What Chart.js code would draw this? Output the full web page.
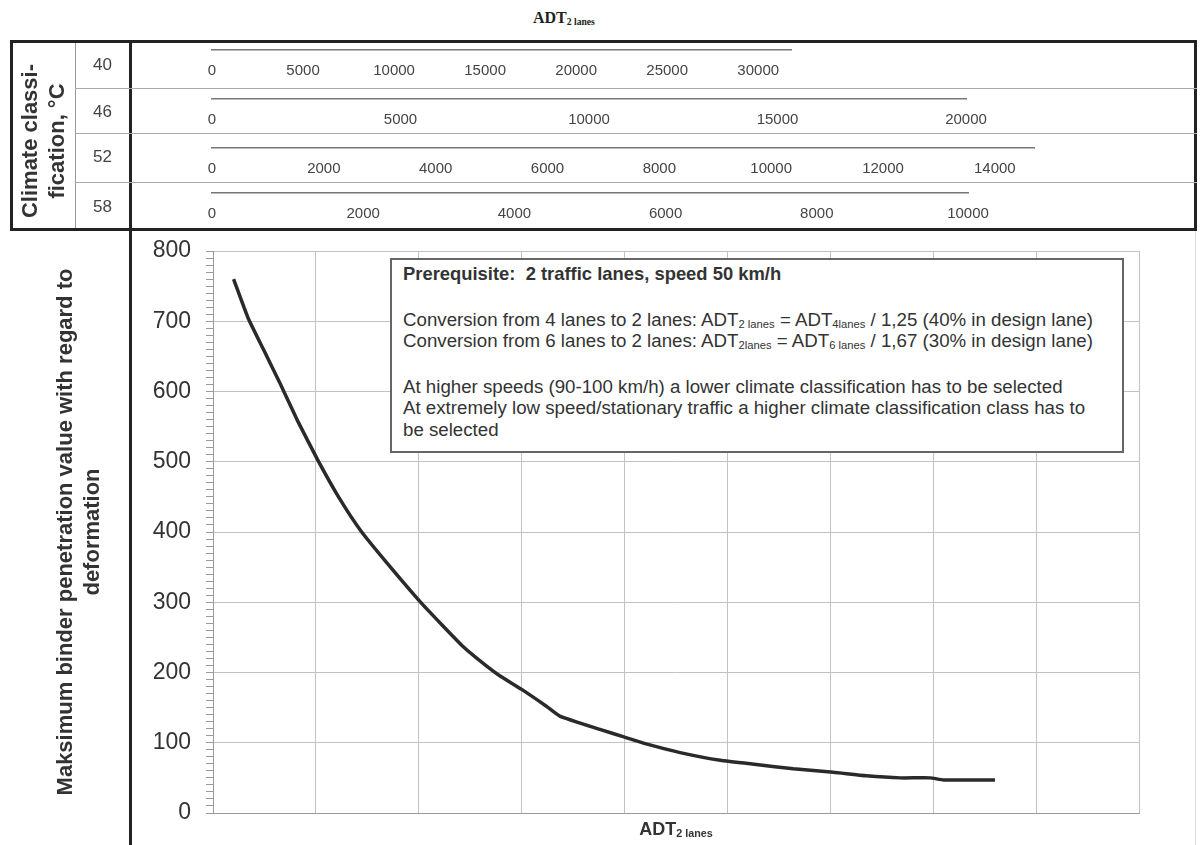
<!DOCTYPE html>
<html>
<head>
<meta charset="utf-8">
<script src="https://cdn.jsdelivr.net/npm/chart.js@4.4.1/dist/chart.umd.min.js"></script>
<style>
  html, body { margin: 0; padding: 0; background: #fff; }
  body { width: 1200px; height: 845px; position: relative; overflow: hidden;
         font-family: Arial, 'Liberation Sans', sans-serif; color: #333; }
  .abs { position: absolute; }
  canvas { position: absolute; }
  sub { font-size: 0.6em; line-height: 0; vertical-align: -0.2em; }
  #topTitle { left: 533px; top: 9px; font: bold 16px 'Liberation Serif', 'Times New Roman', serif; color: #222; }
  #table { left: 10px; top: 40px; width: 1181px; height: 185px; border: 3px solid #222; }
  #frameLine { left: 129px; top: 40px; width: 3px; height: 805px; background: #222; }
  #colLine { left: 75px; top: 43px; width: 1px; height: 185px; background: #999; }
  .rowLine { left: 75px; width: 1122px; height: 1px; background: #aaa; }
  .rowLabel { left: 76px; width: 53px; text-align: center; font-size: 17px; color: #444; }
  #climate { left: 43px; top: 141px; width: 190px; text-align: center; font-weight: bold; font-size: 22px;
             line-height: 27px; color: #333; transform: translate(-50%, -50%) rotate(-90deg); }
  #note { left: 390px; top: 258px; width: 719px; height: 188px; border: 2px solid #666; background: #fff;
          padding: 3px 0 0 11px; font-size: 18.7px; line-height: 21.5px; color: #333; white-space: nowrap; }
  #note b { font-size: 18.4px; }
  #note .gap { height: 24px; }
  #xTitle { left: 576px; width: 200px; top: 819px; text-align: center; font-weight: bold; font-size: 18px; color: #333; }
  #rightLine { left: 1195px; top: 231px; width: 1px; height: 614px; background: #ddd; }
</style>
</head>
<body>
<div id="topTitle" class="abs">ADT<sub>2 lanes</sub></div>
<canvas id="mainChart" width="1200" height="624" style="left:0;top:221px"></canvas>
<div id="table" class="abs"></div>
<div id="colLine" class="abs"></div>
<div id="frameLine" class="abs"></div>
<div id="rightLine" class="abs"></div>
<div id="climate" class="abs">Climate classi-<br>fication, °C</div>
<div id="note" class="abs">
  <div><b>Prerequisite:&nbsp; 2 traffic lanes, speed 50 km/h</b></div>
  <div class="gap"></div>
  <div>Conversion from 4 lanes to 2 lanes: ADT<sub>2 lanes</sub> = ADT<sub>4lanes</sub> / 1,25 (40% in design lane)</div>
  <div>Conversion from 6 lanes to 2 lanes: ADT<sub>2lanes</sub> = ADT<sub>6 lanes</sub> / 1,67 (30% in design lane)</div>
  <div class="gap"></div>
  <div>At higher speeds (90-100 km/h) a lower climate classification has to be selected</div>
  <div>At extremely low speed/stationary traffic a higher climate classification class has to</div>
  <div>be selected</div>
</div>
<div id="xTitle" class="abs">ADT<sub>2 lanes</sub></div>

<script>
// Climate classes and the ADT scale that belongs to each one
const climateClasses = ['40', '46', '52', '58'];
const adtScaleMax = [31800, 20000, 14700, 10000];
const adtScaleStep = [5000, 5000, 2000, 2000];

// Curve: position along the ADT axis (grid divisions) -> max binder penetration
const curveAdt = [0.2, 0.34, 0.49, 0.65, 0.83, 1.02, 1.22, 1.44, 1.69, 2.03, 2.43, 2.66, 2.79, 3.0, 3.24,
                  3.37, 3.76, 4.0, 4.22, 4.54, 4.93, 5.28, 5.64, 6.03, 6.35, 6.68, 6.97, 7.1, 7.6];
const curvePen = [760, 705, 660, 612, 556, 502, 450, 401, 356, 298, 237, 209, 195, 176, 152,
                  138, 119, 108, 98, 86, 75, 69, 63, 58, 53, 50, 50, 47, 47];

// Axes
const yMax = 800;
const yMajorStep = 100;
const yMinorStep = 10;
const gridDivisions = 9;

// Table row layout (pixels)
const rowTop = [43, 88, 133, 182];
const rowBottom = [88, 133, 182, 228];
const rowLineY = [50, 99, 148, 193];
const rowLineEnd = [791, 966, 1034, 968];
const rowLabelY = [55, 102, 147, 197];

const font = 'Arial, "Liberation Sans", sans-serif';

// row labels, divider lines and one small scale chart per climate class
climateClasses.forEach((cls, i) => {
    const lbl = document.createElement('div');
    lbl.className = 'abs rowLabel';
    lbl.style.top = rowLabelY[i] + 'px';
    lbl.textContent = cls;
    document.body.appendChild(lbl);

    if (i > 0) {
        const line = document.createElement('div');
        line.className = 'abs rowLine';
        line.style.top = rowTop[i] + 'px';
        document.body.appendChild(line);
    }

    const cv = document.createElement('canvas');
    const h = rowBottom[i] - rowTop[i];
    cv.width = 1200;
    cv.height = h;
    cv.style.left = '0px';
    cv.style.top = rowTop[i] + 'px';
    document.body.appendChild(cv);

    const padTop = rowLineY[i] - rowTop[i] - 1;
    new Chart(cv, {
        type: 'scatter',
        data: { datasets: [] },
        options: {
            responsive: false,
            animation: false,
            layout: { padding: { left: 212, right: 1200 - rowLineEnd[i], top: padTop, bottom: 0 } },
            plugins: { legend: { display: false }, tooltip: { enabled: false } },
            scales: {
                x: {
                    type: 'linear',
                    position: 'bottom',
                    min: 0,
                    max: adtScaleMax[i],
                    grid: { display: false, drawTicks: false },
                    border: { display: true, color: '#777', width: 1.5 },
                    ticks: {
                        maxRotation: 0,
                        autoSkip: false,
                        padding: 12,
                        color: '#444',
                        font: { family: font, size: 15 },
                        callback: v => String(v)
                    },
                    afterBuildTicks: scale => {
                        const t = [];
                        for (let v = 0; v <= adtScaleMax[i]; v += adtScaleStep[i]) t.push({ value: v });
                        scale.ticks = t;
                    },
                    afterFit: scale => { scale.height = h - padTop - 1; }
                },
                y: { display: false }
            }
        }
    });
});

// Main chart
new Chart(document.getElementById('mainChart'), {
    type: 'line',
    data: {
        datasets: [{
            data: curveAdt.map((x, i) => ({ x: x, y: curvePen[i] })),
            borderColor: '#2a2a2a',
            borderWidth: 3.5,
            pointRadius: 0,
            tension: 0.15,
            borderJoinStyle: 'round',
            fill: false
        }]
    },
    options: {
        responsive: false,
        animation: false,
        layout: { padding: { left: 0, top: 30, right: 61, bottom: 32 } },
        plugins: { legend: { display: false }, tooltip: { enabled: false } },
        scales: {
            x: {
                type: 'linear',
                min: 0,
                max: gridDivisions,
                ticks: { display: false, stepSize: 1 },
                grid: { color: '#c2c2c2', drawTicks: false },
                border: { color: '#999' }
            },
            y: {
                min: 0,
                max: yMax,
                ticks: {
                    stepSize: yMinorStep,
                    autoSkip: false,
                    padding: 15,
                    color: '#333',
                    font: { family: font, size: 23 },
                    callback: v => (v % yMajorStep === 0 ? String(v) : '')
                },
                grid: {
                    color: ctx => (ctx.tick && ctx.tick.value % yMajorStep === 0 ? '#c2c2c2' : 'rgba(0,0,0,0)'),
                    tickColor: '#999',
                    tickLength: 7
                },
                border: { color: '#999' },
                title: {
                    display: true,
                    text: ['Maksimum binder penetration value with regard to', 'deformation'],
                    color: '#333',
                    font: { family: font, size: 22, weight: 'bold', lineHeight: 1.25 },
                    padding: { top: 52, bottom: 0 }
                },
                afterFit: scale => { scale.width = 213; }
            }
        }
    }
});
</script>
</body>
</html>
